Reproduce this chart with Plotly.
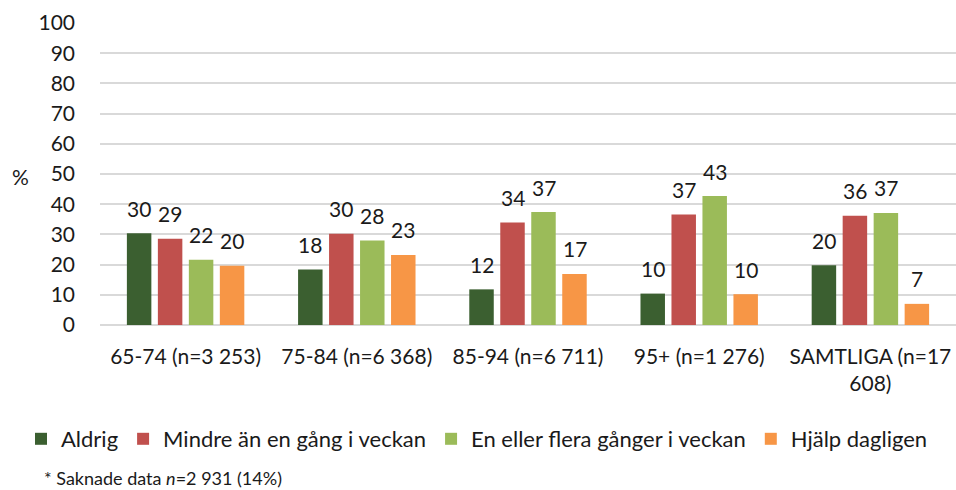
import plotly.graph_objects as go

categories = ["65-74 (n=3 253)", "75-84 (n=6 368)", "85-94 (n=6 711)", "95+ (n=1 276)", "SAMTLIGA (n=17<br>608)"]
series_names = ["Aldrig", "Mindre än en gång i veckan", "En eller flera gånger i veckan", "Hjälp dagligen"]
aldrig = [30.4, 18.4, 11.8, 10.4, 19.8]
mindre = [28.6, 30.2, 33.9, 36.6, 36.2]
en_eller = [21.6, 28.0, 37.4, 42.7, 37.1]
hjalp = [19.6, 23.2, 16.9, 10.2, 7.0]
yticks = [0, 10, 20, 30, 40, 50, 60, 70, 80, 90, 100]

colors = ["#3B5F30", "#C0504D", "#9BBB59", "#F79646"]
values = [aldrig, mindre, en_eller, hjalp]
FONT = "Lato"
TXT = "#1a1a1a"

fig = go.Figure()
for name, vals, col in zip(series_names, values, colors):
    fig.add_trace(go.Bar(name=name, x=categories, y=vals, marker=dict(color=col, line=dict(width=0))))

# value labels above bars
offsets = [-46.5, -15.5, 15.5, 46.5]
for vals, off in zip(values, offsets):
    for c, v in zip(categories, vals):
        fig.add_annotation(x=c, y=v, xref="x", yref="y", text=f"{v:.0f}",
                           showarrow=False, xshift=off, yshift=25, yanchor="middle",
                           font=dict(family=FONT, size=21, color=TXT))

fig.add_annotation(xref="paper", yref="paper", x=(20 - 100) / 856, y=(325 - 176) / 302,
                   xanchor="center", yanchor="middle", text="%", showarrow=False,
                   font=dict(family=FONT, size=21, color=TXT))

fig.add_annotation(xref="paper", yref="paper", x=(42 - 100) / 856, y=(325 - 478) / 302,
                   xanchor="left", yanchor="middle", showarrow=False,
                   text="* Saknade data <i>n</i>=2 931 (14%)",
                   font=dict(family=FONT, size=18, color=TXT))

fig.update_layout(
    width=956, height=490,
    margin=dict(l=100, r=0, t=23, b=165),
    paper_bgcolor="white", plot_bgcolor="white",
    barmode="group", bargap=0.276, bargroupgap=0.21,
    font=dict(family=FONT, size=21, color=TXT),
    showlegend=True,
    legend=dict(orientation="h", x=(21 - 100) / 856, y=(325 - 439) / 302,
                xanchor="left", yanchor="middle", font=dict(family=FONT, size=22, color=TXT),
                traceorder="normal", bgcolor="rgba(0,0,0,0)"),
    xaxis=dict(showgrid=False, showline=False, ticks="", ticklabelstandoff=17,
               tickfont=dict(family=FONT, size=21, color=TXT)),
    yaxis=dict(range=[0, 100], tickvals=yticks, showgrid=True, gridcolor="#D9D9D9", gridwidth=1.5,
               zeroline=True, zerolinecolor="#D9D9D9", zerolinewidth=1.5, showline=False,
               ticks="", ticklabelstandoff=24, tickfont=dict(family=FONT, size=21, color=TXT)),
)

fig.write_html("out.html", config={"displayModeBar": False},
               post_script="document.body.style.margin='0';document.body.style.padding='0';")
